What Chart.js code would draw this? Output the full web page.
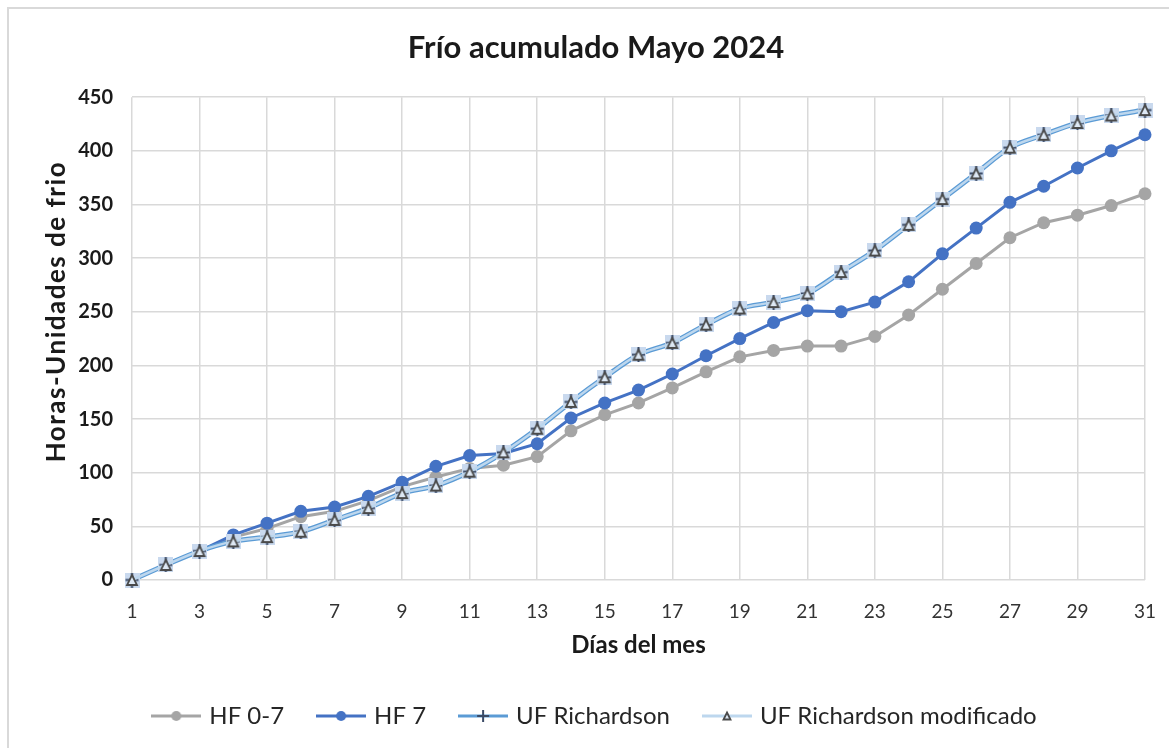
<!DOCTYPE html>
<html lang="es">
<head>
<meta charset="UTF-8">
<title>Frío acumulado Mayo 2024</title>
<script src="https://cdn.jsdelivr.net/npm/chart.js"></script>
<style>
  html, body { margin: 0; padding: 0; background: #fff; }
  #wrap { width: 1169px; height: 748px; }
</style>
</head>
<body>
<div id="wrap"><canvas id="chart" width="1169" height="748"></canvas></div>
<script>
  // datos
  const days = [1, 2, 3, 4, 5, 6, 7, 8, 9, 10, 11, 12, 13, 14, 15, 16, 17, 18, 19, 20, 21, 22, 23, 24, 25, 26, 27, 28, 29, 30, 31];
  const hf07 = [0, 14, 27, 40, 48, 59, 64, 74, 87, 96, 104, 107, 115, 139, 154, 165, 179, 194, 208, 214, 218, 218, 227, 247, 271, 295, 319, 333, 340, 349, 360];
  const hf7 = [0, 14, 27, 42, 53, 64, 68, 78, 91, 106, 116, 118, 127, 151, 165, 177, 192, 209, 225, 240, 251, 250, 259, 278, 304, 328, 352, 367, 384, 400, 415];
  const ufRichardson = [0, 14, 27, 36, 40, 45, 56, 67, 81, 88, 101, 119, 141, 166, 189, 210, 221, 238, 253, 259, 267, 287, 307, 331, 355, 379, 403, 415, 426, 433, 438];
  const ufModificado = [0, 14, 27, 36, 40, 45, 56, 67, 81, 88, 101, 119, 141, 166, 189, 210, 221, 238, 253, 259, 267, 287, 307, 331, 355, 379, 403, 415, 426, 433, 438];
  const seriesNames = ['HF 0-7', 'HF 7', 'UF Richardson', 'UF Richardson modificado'];
  const chartTitle = 'Frío acumulado Mayo 2024';
  const xTitle = 'Días del mes';
  const yTitle = 'Horas-Unidades de frio';

  const GRAY = '#A5A5A5', BLUE = '#4472C4', MID = '#5B9BD5', LIGHT = '#BDD7EE';
  const GRID = '#D9D9D9';

  function makeCanvas(w, h, draw) {
    const c = document.createElement('canvas');
    c.width = w; c.height = h;
    draw(c.getContext('2d'), w, h);
    return c;
  }

  function drawCross(c, cx, cy, s) {
    c.fillStyle = '#C9D9EE';
    c.fillRect(cx - s / 2, cy - s / 2, s, s);
    c.strokeStyle = '#3A4A66';
    c.lineWidth = 2;
    c.beginPath();
    c.moveTo(cx, cy - s / 2); c.lineTo(cx, cy + s / 2);
    c.moveTo(cx - s / 2 + 1, cy); c.lineTo(cx + s / 2 - 1, cy);
    c.stroke();
  }

  function drawTriangle(c, cx, cy, s) {
    c.fillStyle = '#DDE8F4';
    c.strokeStyle = '#4A4A4A';
    c.lineWidth = 1.8;
    c.beginPath();
    c.moveTo(cx, cy - s / 2);
    c.lineTo(cx + s / 2, cy + s / 2);
    c.lineTo(cx - s / 2, cy + s / 2);
    c.closePath();
    c.fill(); c.stroke();
  }

  const ufPoint = makeCanvas(15, 15, (c, w, h) => drawCross(c, w / 2, h / 2, 15));
  const modPoint = makeCanvas(14, 14, (c, w, h) => drawTriangle(c, w / 2, h / 2, 10));

  function legendIcon(color, lw, marker) {
    return makeCanvas(50, 16, (c, w, h) => {
      c.strokeStyle = color; c.lineWidth = lw;
      c.beginPath(); c.moveTo(0, h / 2); c.lineTo(w, h / 2); c.stroke();
      marker(c, w / 2, h / 2);
    });
  }
  const legendIcons = [
    legendIcon(GRAY, 3, (c, x, y) => { c.fillStyle = GRAY; c.beginPath(); c.arc(x, y, 5, 0, Math.PI * 2); c.fill(); }),
    legendIcon(BLUE, 3, (c, x, y) => { c.fillStyle = BLUE; c.beginPath(); c.arc(x, y, 5, 0, Math.PI * 2); c.fill(); }),
    legendIcon(MID, 3, (c, x, y) => {
      c.strokeStyle = '#3A4A66'; c.lineWidth = 2;
      c.beginPath(); c.moveTo(x, y - 6); c.lineTo(x, y + 6); c.moveTo(x - 6, y); c.lineTo(x + 6, y); c.stroke();
    }),
    legendIcon(LIGHT, 3, (c, x, y) => drawTriangle(c, x, y, 7))
  ];

  const bgPlugin = {
    id: 'fondo',
    beforeDraw(chart) {
      const ctx = chart.ctx;
      ctx.save();
      ctx.fillStyle = '#fff';
      ctx.fillRect(0, 0, chart.width, chart.height);
      ctx.strokeStyle = GRID;
      ctx.lineWidth = 2;
      ctx.strokeRect(8, 8, chart.width + 10, chart.height + 10);
      ctx.restore();
    }
  };

  // titulo del eje Y, algo por encima del centro como en el original
  const yTitlePlugin = {
    id: 'tituloY',
    afterDraw(chart) {
      const a = chart.chartArea;
      const ctx = chart.ctx;
      ctx.save();
      ctx.translate(a.left - 75, (a.top + a.bottom) / 2 - 27);
      ctx.rotate(-Math.PI / 2);
      ctx.font = 'bold 26px Lato';
      ctx.letterSpacing = '1.5px';
      ctx.fillStyle = '#1a1a1a';
      ctx.textAlign = 'center';
      ctx.textBaseline = 'middle';
      ctx.fillText(yTitle, 0, 0);
      ctx.restore();
    }
  };

  const ctx = document.getElementById('chart').getContext('2d');
  new Chart(ctx, {
    type: 'line',
    data: {
      labels: days,
      datasets: [
        {
          label: seriesNames[0], data: hf07, order: 3, clip: false,
          borderColor: GRAY, borderWidth: 3, pointRadius: 6.5, pointBackgroundColor: GRAY,
          pointBorderWidth: 0, tension: 0
        },
        {
          label: seriesNames[1], data: hf7, order: 2, clip: false,
          borderColor: BLUE, borderWidth: 3, pointRadius: 6.5, pointBackgroundColor: BLUE,
          pointBorderWidth: 0, tension: 0
        },
        {
          label: seriesNames[2], data: ufRichardson, order: 1, clip: false,
          borderColor: MID, borderWidth: 5, pointStyle: ufPoint, pointRadius: 6,
          tension: 0.3
        },
        {
          label: seriesNames[3], data: ufModificado, order: 0, clip: false,
          borderColor: LIGHT, borderWidth: 2.5, pointStyle: modPoint, pointRadius: 6,
          tension: 0.3
        }
      ]
    },
    options: {
      responsive: false,
      animation: false,
      layout: { padding: { left: 47, right: 24, top: 20, bottom: 10 } },
      plugins: {
        title: {
          display: true,
          text: chartTitle,
          font: { family: 'Lato', size: 31, weight: 'bold' },
          color: '#1a1a1a',
          padding: { top: 9, bottom: 31 }
        },
        legend: {
          position: 'bottom',
          labels: {
            usePointStyle: true,
            pointStyleWidth: 42,
            padding: 36,
            color: '#262626',
            font: { family: 'Lato', size: 24 },
            sort: (a, b) => a.datasetIndex - b.datasetIndex,
            generateLabels(chart) {
              const items = Chart.defaults.plugins.legend.labels.generateLabels(chart);
              items.forEach(it => { it.pointStyle = legendIcons[it.datasetIndex]; });
              return items;
            }
          }
        },
        tooltip: { enabled: false }
      },
      scales: {
        x: {
          ticks: {
            autoSkip: false,
            maxRotation: 0,
            padding: 20,
            color: '#333',
            font: { family: 'Lato', size: 19 },
            callback: (v, i) => (i % 2 === 0 ? days[i] : '')
          },
          grid: {
            color: c => (c.index % 2 === 0 ? GRID : 'rgba(0,0,0,0)'),
            lineWidth: 1.5,
            drawTicks: false
          },
          border: { display: false },
          title: {
            display: true,
            text: xTitle,
            color: '#1a1a1a',
            font: { family: 'Lato', size: 24, weight: 'bold' },
            padding: { top: 0, bottom: 8 }
          },
          afterFit(s) {
            s.height = 88;
            s.paddingLeft = 0;
            s.paddingRight = 0;
          }
        },
        y: {
          min: 0,
          max: 450,
          ticks: {
            stepSize: 50,
            padding: 19,
            color: '#1a1a1a',
            font: { family: 'Lato', size: 20, weight: 'bold' }
          },
          grid: { color: GRID, lineWidth: 1.5, drawTicks: false },
          border: { display: false },
          afterFit(s) { s.width = 85; }
        }
      }
    },
    plugins: [bgPlugin, yTitlePlugin]
  });
</script>
</body>
</html>
